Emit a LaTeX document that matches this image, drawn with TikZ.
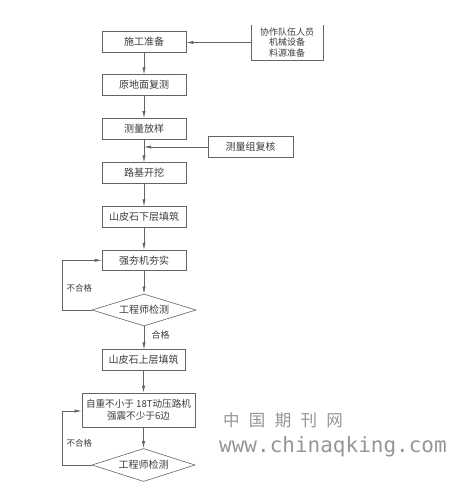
\documentclass[tikz,border=0pt]{standalone}
\usepackage{fontspec}
\newfontfamily\cjk{Noto Sans CJK SC}
\newfontfamily\wmono{DejaVu Sans Mono}
\usetikzlibrary{shapes.geometric,arrows.meta}
\definecolor{linec}{RGB}{100,100,100}
\definecolor{textc}{RGB}{60,60,60}
\definecolor{wmark}{RGB}{150,150,150}
\begin{document}
\begin{tikzpicture}[x=1pt,y=-1pt,
  every node/.style={font=\cjk\fontsize{10}{12}\selectfont, text=textc, inner sep=0pt},
  stepbox/.style={draw=linec, line width=0.6pt, rectangle, minimum width=84pt, minimum height=20.5pt},
  checkbox/.style={draw=linec, line width=0.6pt, diamond, aspect=3.3, minimum width=104pt, minimum height=32pt},
  arr/.style={draw=linec, line width=0.6pt, -{Latex[length=7pt,width=3.2pt]}},
  conn/.style={draw=linec, line width=0.6pt},
  lab/.style={font=\cjk\fontsize{8.5}{10}\selectfont}
]
\useasboundingbox (0,0) rectangle (449,482);
\fill[white] (0,0) rectangle (449,482);

\node[stepbox] (A) at (144,42) {施工准备};
\node[stepbox] (B) at (144,85) {原地面复测};
\node[stepbox] (C) at (144,128.7) {测量放样};
\node[stepbox] (D) at (144,173) {路基开挖};
\node[stepbox] (E) at (144,217) {山皮石下层填筑};
\node[stepbox] (F) at (144,260.3) {强夯机夯实};
\node[checkbox] (G) at (144,310) {工程师检测};
\node[stepbox, minimum width=83pt] (H) at (143.5,360) {山皮石上层填筑};
\node[stepbox, minimum width=113pt, minimum height=34pt, align=center,
      font=\cjk\fontsize{9.6}{12.5}\selectfont] (I) at (138.5,410) {自重不小于 18T动压路机\\强震不少于6边};
\node[checkbox, minimum width=103pt, minimum height=33pt] (J) at (143.5,465) {工程师检测};

\node[minimum width=72pt, minimum height=35pt, align=center,
      font=\cjk\fontsize{9}{10.4}\selectfont] (R1) at (287,42.5) {协作队伍人员\\机械设备\\料源准备};
\draw[conn] (R1.north west) -- (R1.south west) -- (R1.south east) -- (R1.north east);
\node[stepbox, minimum width=85pt] (R2) at (250.5,147) {测量组复核};

\draw[arr] (R1.west) -- (R1.west -| A.east);
\draw[arr] (A) -- (B);
\draw[arr] (B) -- (C);
\draw[arr] (C) -- (D);
\coordinate (m1) at (R2.west -| C.south);
\draw[arr] (R2.west) -- (m1);
\draw[arr] (D) -- (E);
\draw[arr] (E) -- (F);
\draw[arr] (F) -- (G);
\draw[arr] (G) -- (G.south |- H.north);
\draw[arr] (H) -- (H.south |- I.north);
\draw[arr] (I.south -| J.north) -- (J);

\coordinate (lx) at (62,0);
\draw[arr] (G.west) -- (G.west -| lx) |- (F.west);
\draw[arr] (J.west) -- (J.west -| lx) |- ([yshift=-1pt]I.west);

\node[lab, anchor=west] (n1) at (66.5,288.5) {不合格};
\node[lab, anchor=west] (n2) at (66.5,443.5) {不合格};
\node[lab, anchor=west, font=\cjk\fontsize{9}{10}\selectfont] (ok) at (151.5,335) {合格};

\node[anchor=west, text=wmark, font=\cjk\fontsize{16.5}{18}\selectfont] (w1) at (223,420.5)
  {中\hspace{9.3pt}国\hspace{9.3pt}期\hspace{9.3pt}刊\hspace{9.3pt}网};
\node[anchor=base west, text=wmark, font=\wmono\fontsize{21}{22}\selectfont] (w2) at (219,452.5) {www.chinaqking.com};
\end{tikzpicture}
\end{document}
